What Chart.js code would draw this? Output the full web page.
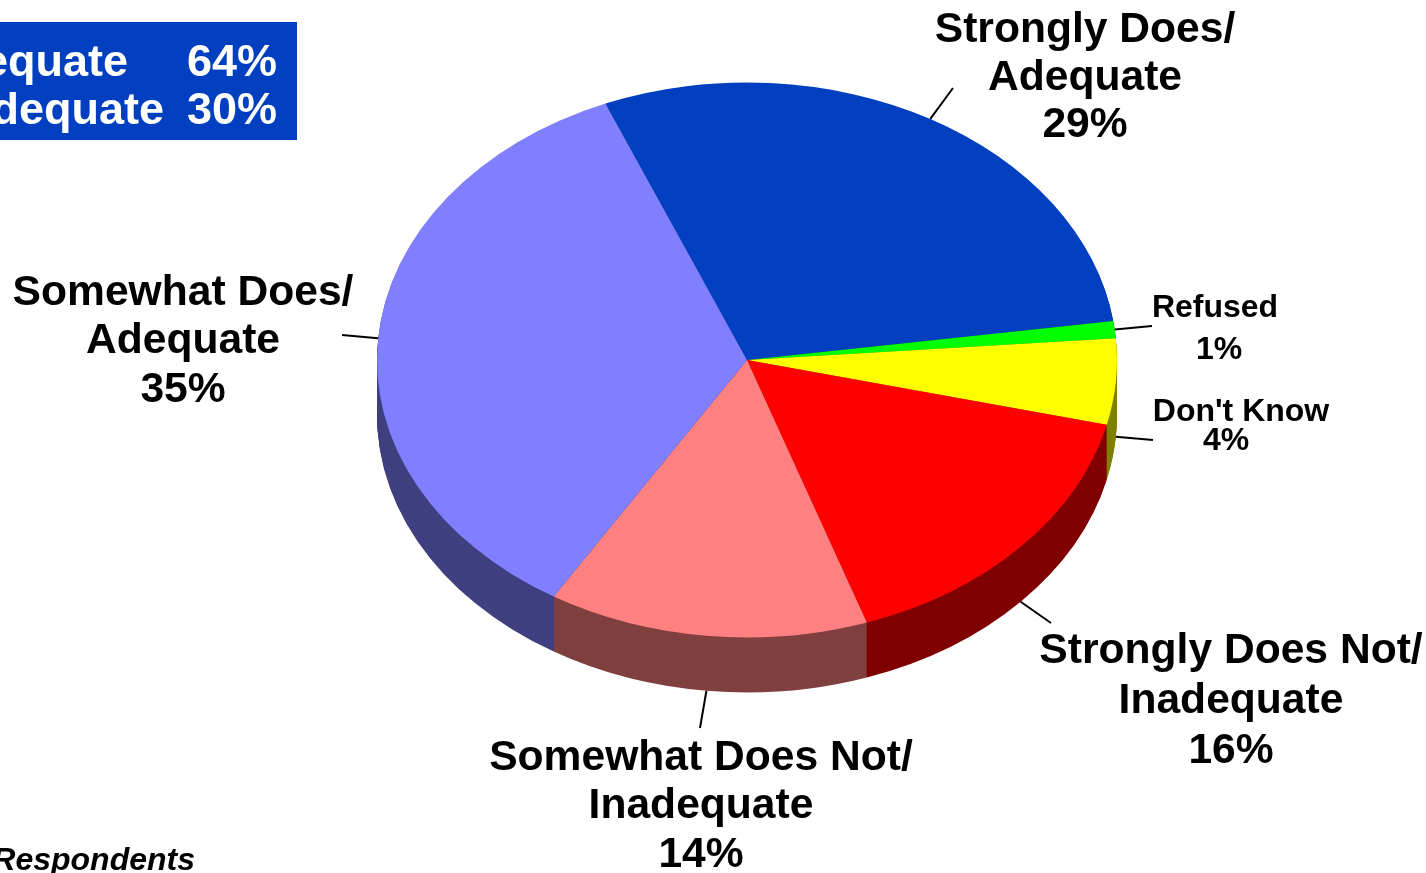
<!DOCTYPE html>
<html>
<head>
<meta charset="utf-8">
<script src="https://cdn.jsdelivr.net/npm/chart.js@4.4.1/dist/chart.umd.min.js"></script>
<style>
html,body{margin:0;padding:0;background:#fff;overflow:hidden}
#wrap{width:1426px;height:873px;position:relative}
</style>
</head>
<body>
<div id="wrap"><canvas id="c"></canvas></div>
<script>
// ---- data ----
const categories = ["Strongly Does/ Adequate", "Refused", "Don't Know", "Strongly Does Not/ Inadequate", "Somewhat Does Not/ Inadequate", "Somewhat Does/ Adequate"];
const labelLines = [["Strongly Does/", "Adequate"], ["Refused"], ["Don't Know"], ["Strongly Does Not/", "Inadequate"], ["Somewhat Does Not/", "Inadequate"], ["Somewhat Does/", "Adequate"]];
const values = [29, 1, 5, 16, 14, 35];
const percentLabels = ["29%", "1%", "4%", "16%", "14%", "35%"];
const summaryLabels = ["Total Adequate", "Total Inadequate"];
const summaryValues = ["64%", "30%"];
const footnote = "Base: All Respondents";

// ---- styles ----
const topColors = ["#0040C0", "#00FF00", "#FFFF00", "#FF0000", "#FF8080", "#8080FF"];
const sideColors = ["#002060", "#008000", "#808000", "#800000", "#804040", "#404080"];
const TILT = 0.75, DEPTH = 55, TARGET_CY = 360;
const FONT = '"Liberation Sans", Arial, Helvetica, sans-serif';

// label layout (positions only)
const labelLayout = [
  {x: [1085, 1085, 1085], y: [42, 90, 137], size: 42.6, end: [953, 88]},
  {x: [1215, 1219], y: [317, 359], size: 32, end: [1152, 326]},
  {x: [1241, 1226], y: [421, 450], size: 32, end: [1153, 440]},
  {x: [1231, 1231, 1231], y: [663, 713, 763], size: 42.6, end: [1051, 623]},
  {x: [701, 701, 701], y: [770, 818, 867], size: 42.6, end: [700, 728]},
  {x: [183, 183, 183], y: [305, 353, 402], size: 42.6, end: [342, 335]}
];

function drawArcWith(ctx, arc, color) {
  const p = Object.create(arc);
  p.options = Object.assign({}, arc.options, {backgroundColor: color, borderWidth: 0});
  p.draw(ctx);
}

const tiltPlugin = {
  id: 'tilt3d',
  beforeDatasetsDraw(chart) {
    const ctx = chart.ctx;
    const meta = chart.getDatasetMeta(0);
    const cy = meta.data[0].y;
    for (let d = DEPTH; d >= 1; d--) {
      ctx.save();
      ctx.translate(0, TARGET_CY - cy * TILT + d);
      ctx.scale(1, TILT);
      meta.data.forEach((arc, i) => drawArcWith(ctx, arc, sideColors[i]));
      ctx.restore();
    }
    ctx.save();
    ctx.translate(0, TARGET_CY - cy * TILT);
    ctx.scale(1, TILT);
    meta.data.forEach((arc, i) => drawArcWith(ctx, arc, topColors[i]));
    ctx.restore();
    return false;
  },
  afterDraw(chart) {
    const ctx = chart.ctx;
    const meta = chart.getDatasetMeta(0);
    ctx.save();
    meta.data.forEach((arc, i) => {
      const mid = (arc.startAngle + arc.endAngle) / 2;
      const r = arc.outerRadius;
      const sx = arc.x + r * Math.cos(mid);
      let sy = TARGET_CY + r * TILT * Math.sin(mid);
      if (Math.sin(mid) > 0.05) sy += DEPTH;
      const L = labelLayout[i];
      ctx.beginPath();
      ctx.moveTo(sx, sy);
      ctx.lineTo(L.end[0], L.end[1]);
      ctx.strokeStyle = '#000';
      ctx.lineWidth = 2;
      ctx.stroke();
      const lines = labelLines[i].concat([percentLabels[i]]);
      ctx.fillStyle = '#000';
      ctx.textAlign = 'center';
      ctx.textBaseline = 'alphabetic';
      ctx.font = 'bold ' + L.size + 'px ' + FONT;
      lines.forEach((t, j) => ctx.fillText(t, L.x[j], L.y[j]));
    });
    ctx.fillStyle = '#0040C0';
    ctx.fillRect(0, 22, 297, 118);
    ctx.fillStyle = '#fff';
    ctx.font = 'bold 45px ' + FONT;
    ctx.textAlign = 'right';
    ctx.fillText(summaryLabels[0], 128, 76);
    ctx.fillText(summaryLabels[1], 164, 124);
    ctx.fillText(summaryValues[0], 277, 76);
    ctx.fillText(summaryValues[1], 277, 124);
    ctx.fillStyle = '#000';
    ctx.font = 'italic bold 32px ' + FONT;
    ctx.fillText(footnote, 195, 870);
    ctx.restore();
  }
};

new Chart(document.getElementById('c'), {
  type: 'pie',
  data: {
    labels: categories,
    datasets: [{data: values, backgroundColor: topColors, borderWidth: 0}]
  },
  options: {
    responsive: true,
    maintainAspectRatio: false,
    animation: false,
    rotation: -22.5,
    layout: {padding: {left: 377, right: 309, top: 0, bottom: 133}},
    plugins: {legend: {display: false}, tooltip: {enabled: false}}
  },
  plugins: [tiltPlugin]
});
</script>
</body>
</html>
